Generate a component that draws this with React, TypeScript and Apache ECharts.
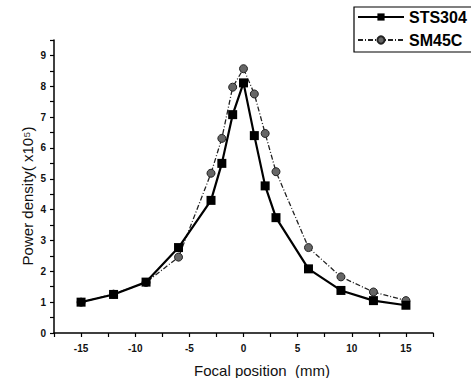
import React, { useEffect, useRef } from "react";
import * as echarts from "echarts";

const focalPositions = [-15, -12, -9, -6, -3, -2, -1, 0, 1, 2, 3, 6, 9, 12, 15];
const sts304 = [1.0, 1.25, 1.65, 2.77, 4.3, 5.5, 7.08, 8.11, 6.4, 4.77, 3.74, 2.08, 1.38, 1.05, 0.9];
const sm45c = [1.0, 1.26, 1.64, 2.46, 5.18, 6.31, 7.97, 8.57, 7.75, 6.47, 5.23, 2.77, 1.82, 1.33, 1.05];
const seriesNames = ["STS304", "SM45C"];
const xAxisName = "Focal position  (mm)";
const yAxisName = "Power density( x10\u2075)";

const FONT = "'Liberation Sans', Arial, sans-serif";

export default function App() {
  const ref = useRef<HTMLDivElement>(null);
  useEffect(() => {
    if (!ref.current) return;
    const chart = echarts.init(ref.current, null, { renderer: "svg" });
    const pair = (ys: number[]) => focalPositions.map((x, i) => [x, ys[i]]);
    chart.setOption({
      animation: false,
      backgroundColor: "#fff",
      textStyle: { fontFamily: FONT },
      grid: { left: 54, right: 38, top: 40, bottom: 45 },
      xAxis: {
        type: "value",
        min: -17.5,
        max: 17.5,
        interval: 2.5,
        splitLine: { show: false },
        axisLine: { onZero: false, lineStyle: { color: "#000", width: 1.5 } },
        axisTick: { length: 4, lineStyle: { color: "#000", width: 1.2 } },
        axisLabel: {
          color: "#111",
          fontSize: 10,
          fontWeight: "bold",
          margin: 10,
          formatter: (v: number) => (Math.abs(v) <= 15 && v % 5 === 0 ? String(v) : ""),
        },
      },
      yAxis: {
        type: "value",
        min: 0,
        max: 9.5,
        interval: 0.5,
        splitLine: { show: false },
        axisLine: { onZero: false, lineStyle: { color: "#000", width: 1.5 } },
        axisTick: { length: 4, lineStyle: { color: "#000", width: 1.2 } },
        axisLabel: {
          color: "#111",
          fontSize: 10,
          fontWeight: "bold",
          margin: 8,
          formatter: (v: number) => (v % 1 === 0 && v <= 9 ? String(v) : ""),
        },
      },
      legend: {
        orient: "vertical",
        left: 357,
        top: 9,
        padding: 0,
        itemWidth: 46,
        itemHeight: 9,
        itemGap: 7,
        textStyle: { color: "#000", fontSize: 16, fontWeight: "bold", fontFamily: FONT },
        data: seriesNames,
      },
      graphic: [
        {
          type: "rect",
          shape: { x: 354, y: 7, width: 130, height: 45 },
          style: { fill: "none", stroke: "#000", lineWidth: 1.2 },
          z: 10,
        },
        {
          type: "text",
          x: 262,
          y: 370,
          style: {
            text: xAxisName,
            fill: "#111",
            font: `15px ${FONT}`,
            align: "center",
            verticalAlign: "middle",
          },
        },
        {
          type: "text",
          x: 27,
          y: 196,
          rotation: Math.PI / 2,
          style: {
            text: yAxisName,
            fill: "#111",
            font: `15px ${FONT}`,
            align: "center",
            verticalAlign: "middle",
          },
        },
      ],
      series: [
        {
          name: seriesNames[0],
          type: "line",
          data: pair(sts304),
          symbol: "rect",
          symbolSize: 9,
          itemStyle: { color: "#000" },
          lineStyle: { color: "#000", width: 2.2 },
          z: 3,
        },
        {
          name: seriesNames[1],
          type: "line",
          data: pair(sm45c),
          symbol: "circle",
          symbolSize: 8,
          itemStyle: { color: "#666", borderColor: "#222", borderWidth: 1 },
          lineStyle: { color: "#222", width: 1.3, type: [5, 2, 1, 2] },
          z: 2,
        },
      ],
    });
    return () => chart.dispose();
  }, []);
  return (
    <div
      ref={ref}
      style={{ position: "absolute", left: 0, top: 0, width: 471, height: 378 }}
    />
  );
}
